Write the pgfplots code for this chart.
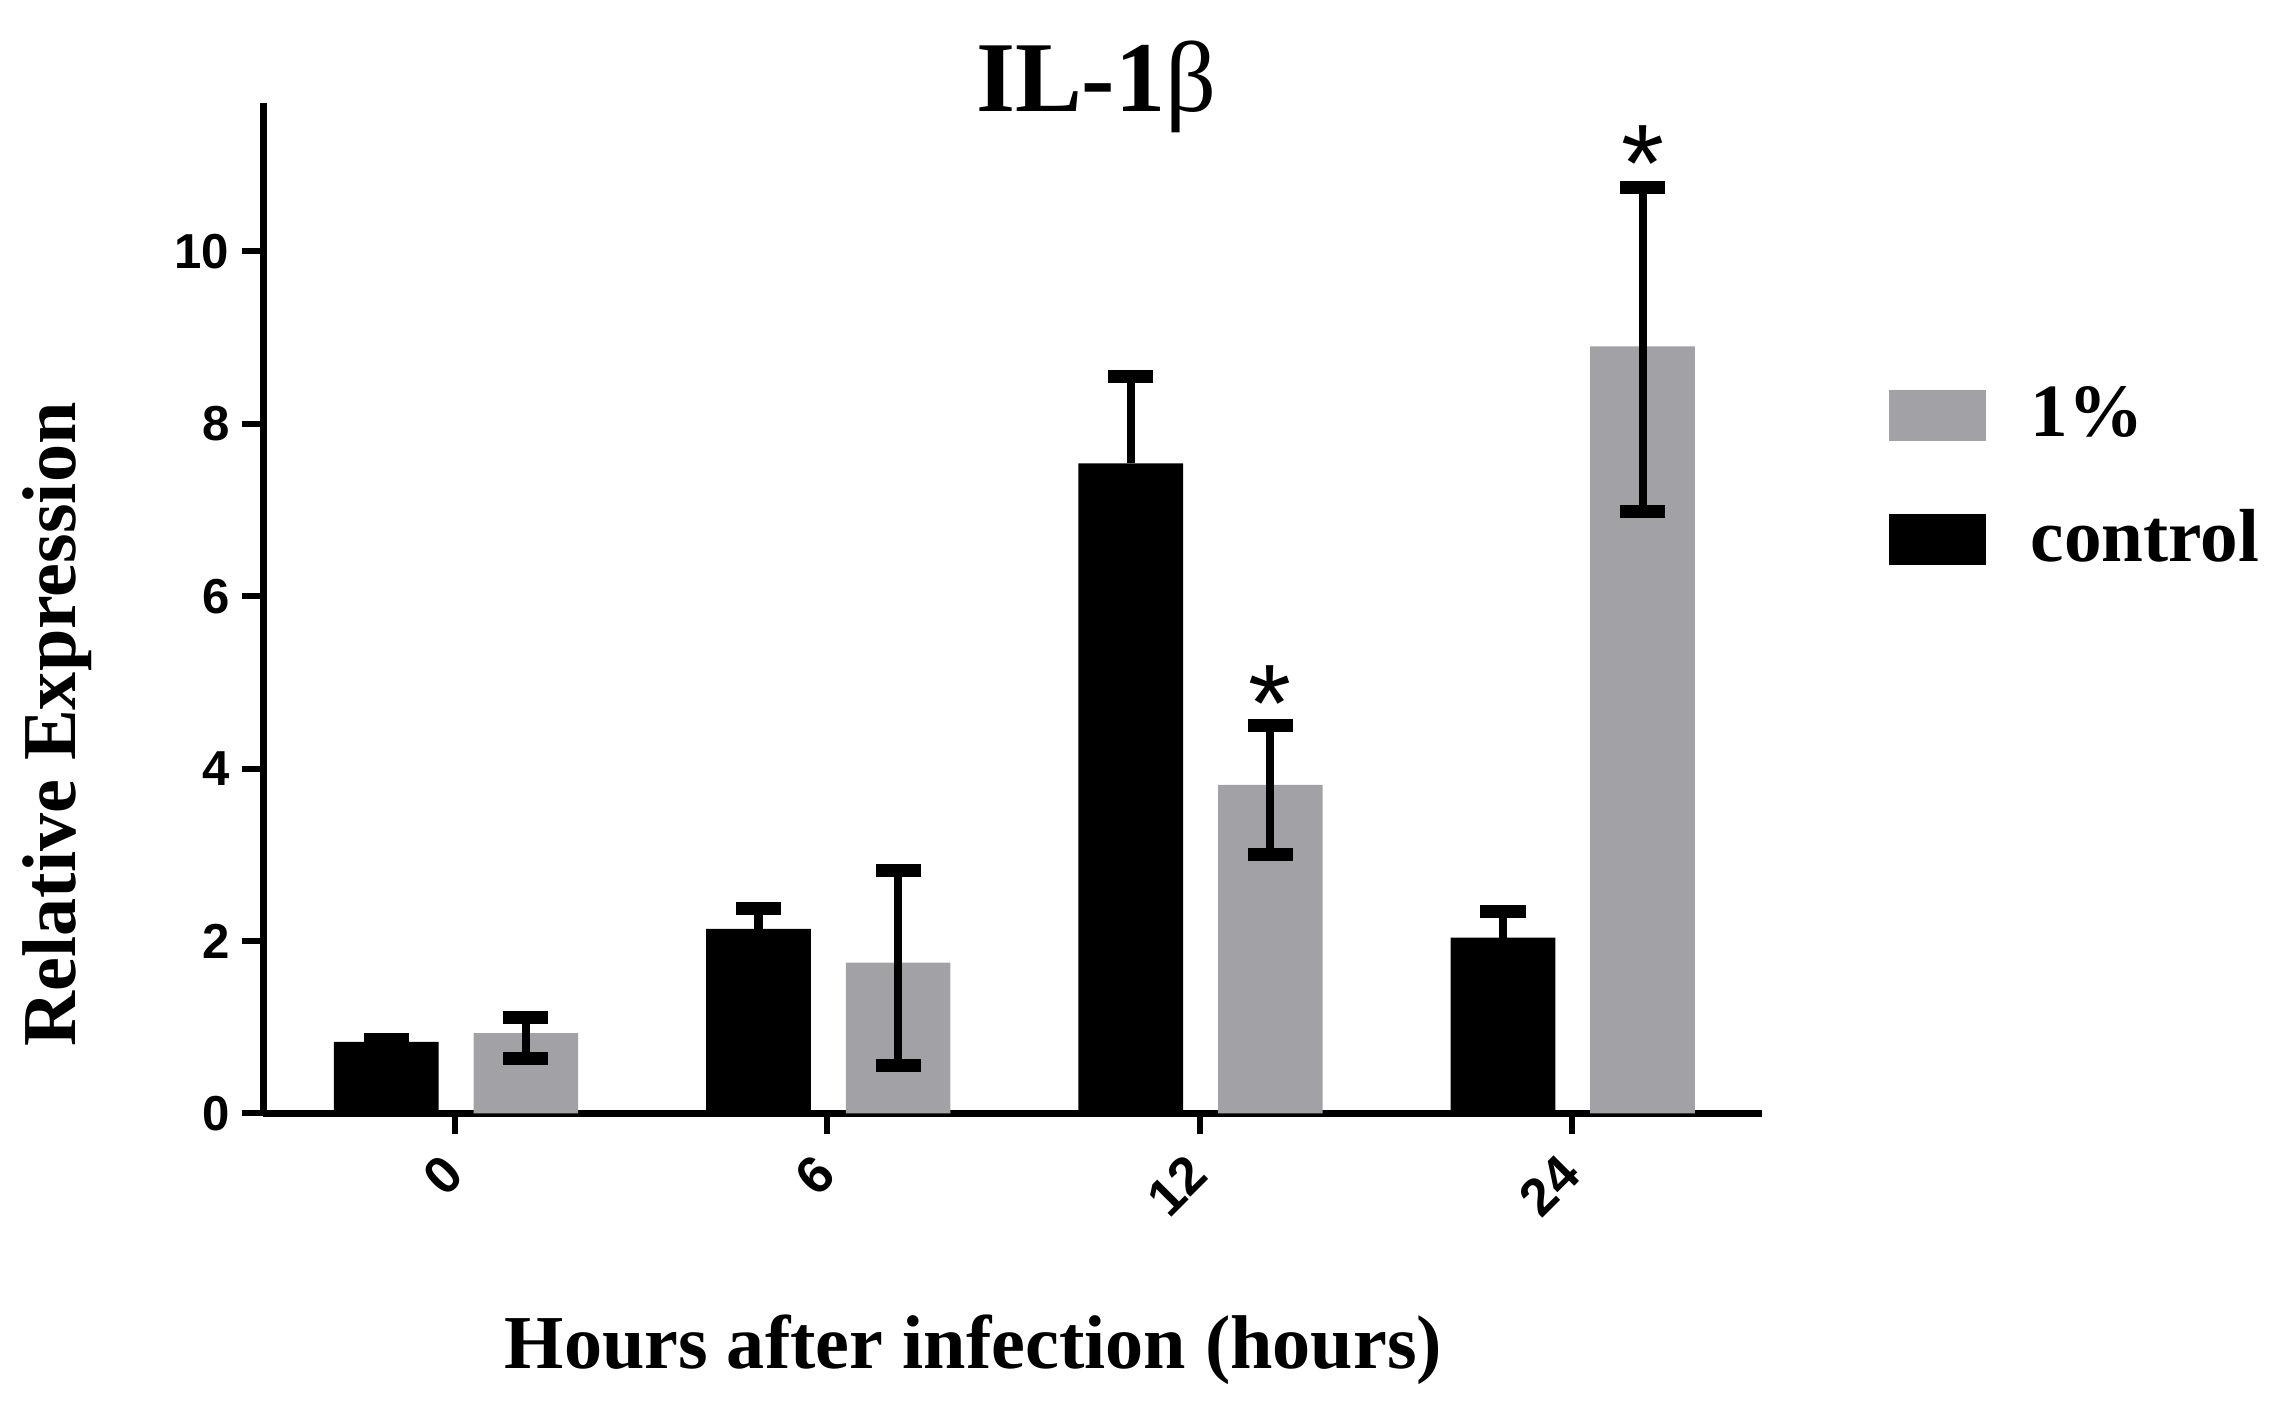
\documentclass[border=0pt]{standalone}
\usepackage{pgfplots}
\usepackage{pgfplotstable}
\pgfplotsset{compat=1.18}
\usepackage{fontspec}
\setmainfont{Liberation Serif}
\newfontfamily\arial{Liberation Sans}
\definecolor{bargray}{RGB}{162,162,166}

% mean, upper error, lower error
\pgfplotstableread{
x y ep em
0 0.83 0.03 0.03
1 2.14 0.24 0.24
2 7.54 1.01 1.01
3 2.04 0.30 0.30
}\control
\pgfplotstableread{
x y ep em
0 0.93 0.18 0.29
1 1.75 1.07 1.19
2 3.81 0.69 0.81
3 8.90 1.84 1.92
}\onepct

\begin{document}
\begin{tikzpicture}
\useasboundingbox (-52.49pt,-59.45pt) rectangle (402.23pt,222.14pt);
\begin{axis}[
  scale only axis, width=299pt, height=201.55pt,
  xmin=-0.516, xmax=3.51, ymin=0, ymax=11.72,
  clip=false,
  axis lines=left,
  axis line style={line width=1.4pt, -},
  xtick={0,1,2,3}, xticklabels={0,6,12,24},
  ytick={0,2,4,6,8,10},
  tick align=outside, major tick length=4.2pt,
  tick style={line width=1.2pt, black},
  ticklabel style={font=\arial\bfseries\fontsize{9.8}{11}\selectfont},
  yticklabel style={xshift=1pt},
  /pgf/number format/assume math mode=true,
  xticklabel style={rotate=45, anchor=east, yshift=-4pt, xshift=-1pt,
    font=\arial\bfseries\fontsize{10.5}{12}\selectfont},
  title={IL-1{\mdseries β}},
  title style={at={(axis description cs:0.556,0.962)}, anchor=base,
    font=\bfseries\fontsize{20}{24}\selectfont},
  xlabel={Hours after infection (hours)},
  xlabel style={at={(axis description cs:0.474,-0.253)}, anchor=base,
    font=\bfseries\fontsize{15.2}{18}\selectfont},
  ylabel={Relative Expression},
  ylabel style={at={(axis description cs:-0.1254,0.385)}, anchor=base,
    font=\bfseries\fontsize{15.2}{18}\selectfont},
  legend style={draw=none, fill=none, at={(axis description cs:1.084,0.73)},
    anchor=north west, font=\bfseries\fontsize{15}{18}\selectfont,
    row sep=9pt, inner sep=0pt,
    /tikz/every odd column/.append style={column sep=7pt}},
  legend cell align=left,
  reverse legend,
]
\addplot[ybar, bar width=0.281, bar shift=0pt, fill=black, draw=none,
  legend image code/.code={\fill[black] (0pt,-5.1pt) rectangle (19.4pt,5.1pt);},
  error bars/.cd, y dir=plus, y explicit,
  error bar style={line width=1.6pt, black},
  error mark options={rotate=90, line width=2.6pt, mark size=4.5pt, black}]
  table[x expr=\thisrow{x}-0.185, y=y, y error plus=ep, y error minus=em] {\control};
\addlegendentry{control}
\addplot[ybar, bar width=0.281, bar shift=0pt, fill=bargray, draw=none,
  legend image code/.code={\fill[bargray] (0pt,-5.1pt) rectangle (19.4pt,5.1pt);},
  error bars/.cd, y dir=both, y explicit,
  error bar style={line width=1.6pt, black},
  error mark options={rotate=90, line width=2.6pt, mark size=4.5pt, black}]
  table[x expr=\thisrow{x}+0.19, y=y, y error plus=ep, y error minus=em] {\onepct};
\addlegendentry{1\%}
% significance stars
\addplot[draw=none, mark=none, forget plot,
  nodes near coords={\arial\fontsize{22}{22}\selectfont *},
  nodes near coords align={center}]
  coordinates {(2.19,4.75) (3.19,11.02)};
\end{axis}
\end{tikzpicture}
\end{document}
